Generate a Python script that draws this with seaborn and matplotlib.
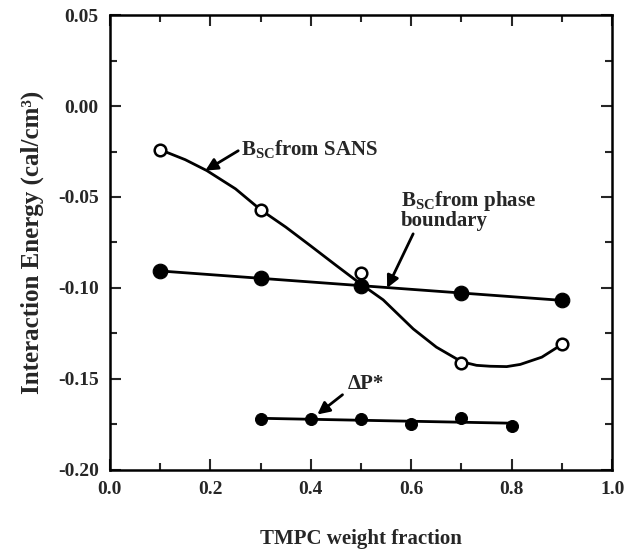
import numpy as np
import pandas as pd
import matplotlib
matplotlib.use("Agg")
import matplotlib.pyplot as plt
from matplotlib.ticker import MultipleLocator
import seaborn as sns

# ============================================
# DATA
# ============================================

sans_x = [0.1, 0.3, 0.5, 0.7, 0.9]
sans_y = [-0.024, -0.057, -0.092, -0.141, -0.131]

# smooth curve drawn through the SANS points
sans_curve_x = [0.1, 0.15, 0.193, 0.25, 0.3, 0.35, 0.398, 0.45, 0.498, 0.544,
                0.604, 0.65, 0.7, 0.73, 0.757, 0.79, 0.817, 0.86, 0.9]
sans_curve_y = [-0.024, -0.0295, -0.0355, -0.0455, -0.057, -0.0665, -0.0765, -0.0875, -0.0975, -0.1065,
                -0.1225, -0.1325, -0.1405, -0.1425, -0.143, -0.1432, -0.142, -0.138, -0.131]

phase_x = [0.1, 0.3, 0.5, 0.7, 0.9]
phase_y = [-0.0905, -0.0947, -0.0989, -0.1029, -0.1066]

dp_x = [0.3, 0.4, 0.5, 0.6, 0.7, 0.8]
dp_y = [-0.172, -0.172, -0.172, -0.1747, -0.1714, -0.1756]

# ============================================
# STYLE
# ============================================

sns.set_style("ticks")
plt.rcParams['font.family'] = ['Liberation Serif', 'DejaVu Serif']
plt.rcParams['font.weight'] = 'bold'
plt.rcParams['mathtext.fontset'] = 'custom'
plt.rcParams['mathtext.rm'] = 'Liberation Serif:bold'
plt.rcParams['mathtext.bf'] = 'Liberation Serif:bold'
plt.rcParams['mathtext.it'] = 'Liberation Serif:bold'

fig = plt.figure(figsize=(6.39, 5.5), dpi=100)
ax = fig.add_axes([0.172, 0.1455, 0.786, 0.8272])

# ============================================
# PLOT
# ============================================

# SANS curve + open circles
sns.lineplot(x=sans_curve_x, y=sans_curve_y, ax=ax, color='black', lw=2, sort=False)
sns.scatterplot(x=sans_x, y=sans_y, ax=ax, s=70, facecolor='white',
                edgecolor='black', linewidth=1.8, zorder=5)

# phase boundary: straight fit + filled circles
sns.regplot(x=phase_x, y=phase_y, ax=ax, ci=None, scatter=False, truncate=True,
            line_kws=dict(color='black', lw=2))
sns.scatterplot(x=phase_x, y=phase_y, ax=ax, s=110, color='black',
                edgecolor='black', zorder=5)

# delta P*
sns.regplot(x=dp_x, y=dp_y, ax=ax, ci=None, scatter=False, truncate=True,
            line_kws=dict(color='black', lw=2))
sns.scatterplot(x=dp_x, y=dp_y, ax=ax, s=75, color='black',
                edgecolor='black', zorder=5)

# ============================================
# ANNOTATIONS
# ============================================

arrow = dict(arrowstyle='-|>', color='black', lw=2, mutation_scale=18)

ax.annotate(r'B$_{\mathrm{SC}}$from SANS', xy=(0.19, -0.0355), xytext=(0.262, -0.0235),
            fontsize=15, fontweight='bold', va='center', ha='left',
            arrowprops=dict(arrow, shrinkA=0, shrinkB=0, relpos=(0, 0.5)))

ax.annotate(r'B$_{\mathrm{SC}}$from phase' + '\nboundary', xy=(0.552, -0.1), xytext=(0.58, -0.0455),
            fontsize=15, fontweight='bold', va='top', ha='left', linespacing=0.85,
            arrowprops=dict(arrow, shrinkA=0, shrinkB=0, relpos=(0.1, 0)))

ax.annotate('ΔP*', xy=(0.413, -0.1695), xytext=(0.474, -0.153),
            fontsize=15, fontweight='bold', va='center', ha='left',
            arrowprops=dict(arrow, shrinkA=2, shrinkB=0, relpos=(0, 0.2)))

# ============================================
# AXES
# ============================================

ax.set_xlim(0.0, 1.0)
ax.set_ylim(-0.20, 0.05)

ax.xaxis.set_minor_locator(MultipleLocator(0.1))
ax.yaxis.set_minor_locator(MultipleLocator(0.025))

xt = np.arange(0, 1.01, 0.2)
yt = np.arange(-0.20, 0.051, 0.05)
ax.set_xticks(xt)
ax.set_xticklabels([f"{v:.1f}" for v in xt])
ax.set_yticks(yt)
ax.set_yticklabels([f"{v:.2f}" if abs(v) > 1e-9 else "0.00" for v in yt])

ax.tick_params(which='both', direction='in', top=True, right=True, width=1.5)
ax.tick_params(which='major', length=8, labelsize=14, pad=8)
ax.tick_params(which='minor', length=5)

for lab in ax.get_xticklabels() + ax.get_yticklabels():
    lab.set_fontweight('bold')

for sp in ax.spines.values():
    sp.set_linewidth(1.8)
    sp.set_color('black')

ax.set_xlabel("TMPC weight fraction", fontsize=15, fontweight='bold', labelpad=22)
ax.set_ylabel("Interaction Energy (cal/cm³)", fontsize=18, fontweight='bold', labelpad=10)

plt.savefig("out.png", dpi=100)
